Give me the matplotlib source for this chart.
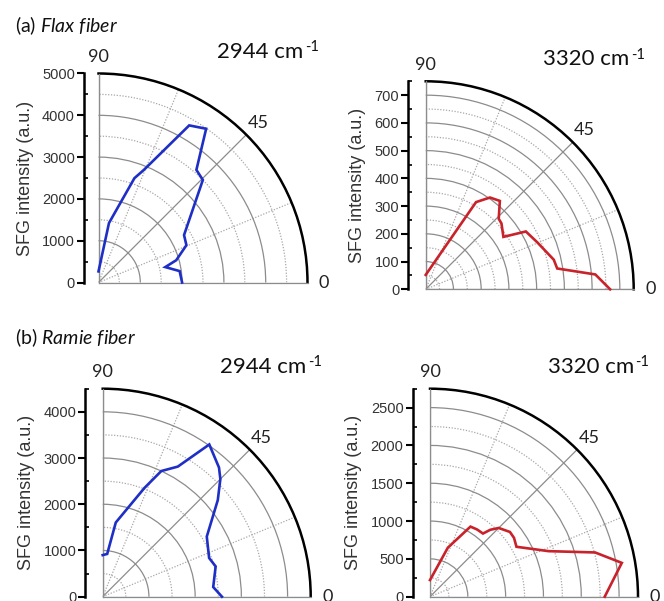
import numpy as np
import matplotlib
matplotlib.use("Agg")
import matplotlib.pyplot as plt
from matplotlib.text import Annotation
from matplotlib.ticker import FixedLocator

plt.rcParams['mathtext.fontset'] = 'custom'
plt.rcParams['mathtext.rm'] = 'Lato'
plt.rcParams['mathtext.it'] = 'Lato:italic'

# Polarization angle (deg) vs SFG intensity (a.u.)
flax_2944_angle = [0, 8, 13, 16, 23, 29, 44.5, 49, 55, 60, 68, 71, 80, 90]
flax_2944_sfg = [2000, 1960, 1640, 1935, 2285, 2340, 3500, 3570, 4490, 4340, 2910, 2640, 1445, 265]

flax_3320_angle = [0, 5, 9, 13, 23, 30, 34, 41, 44, 50, 55, 60, 90]
flax_3320_sfg = [665, 614, 480, 474, 436, 417, 338, 362, 366, 416, 404, 363, 52]

ramie_2944_angle = [0, 5, 15, 20, 30, 40, 45, 48, 55, 60, 65, 69, 80, 84, 90]
ramie_2944_sfg = [2580, 2400, 2530, 2450, 2600, 3250, 3600, 3760, 4020, 3250, 3000, 2520, 1630, 930, 900]

ramie_3320_angle = [0, 10, 15, 21, 30, 35, 39, 45, 48, 50, 55, 60, 70, 90]
ramie_3320_sfg = [2310, 2575, 2260, 1680, 1320, 1356, 1360, 1285, 1190, 1090, 1085, 1070, 690, 220]

# panel: angles, values, colour, radial max, major step, minor step, wavenumber label
panels = [
    (flax_2944_angle, flax_2944_sfg, '#1f2fc6', 5000, 1000, 500, '2944'),
    (flax_3320_angle, flax_3320_sfg, '#c8222a', 750, 100, 50, '3320'),
    (ramie_2944_angle, ramie_2944_sfg, '#1f2fc6', 4500, 1000, 500, '2944'),
    (ramie_3320_angle, ramie_3320_sfg, '#c8222a', 2750, 500, 250, '3320'),
]

W, H = 664, 601
# origin (px) and radius (px) of each quarter-circle, plus left-axis offset (pt)
geometry = [
    (98.5, 282.5, 209, 10.5),
    (425.7, 289.3, 208, 12.5),
    (102.7, 596.7, 208, 12.5),
    (430.0, 596.7, 208, 12.5),
]

fig = plt.figure(figsize=(W / 100, H / 100), dpi=100)

GRID_SOLID = '#8c8c8c'
GRID_DOT = '#a8a8a8'
TXT = '#333333'

for (ang, val, col, rmax, major, minor, wn), (ox, oy, rad, off) in zip(panels, geometry):
    rect = [ox / W, (H - oy) / H, rad / W, rad / H]
    ax = fig.add_axes(rect, projection='polar')
    ax.set_thetamin(0)
    ax.set_thetamax(90)
    ax.set_ylim(0, rmax)

    # radial grid: solid at major steps, dotted halfway between
    maj = np.arange(major, rmax + 1, major)
    mnr = np.arange(minor, rmax + 1, major)
    ax.set_yticks(maj)
    ax.yaxis.set_minor_locator(FixedLocator(mnr))
    ax.tick_params(axis='y', which='both', length=0, labelleft=False,
                   labelright=False)
    ax.yaxis.grid(True, which='major', color=GRID_SOLID, lw=0.9, ls='-')
    ax.yaxis.grid(True, which='minor', color=GRID_DOT, lw=0.9, ls=(0, (1, 1.3)))

    # angular grid and labels
    ax.set_xticks(np.radians([0, 45, 90]))
    ax.set_xticklabels(['0', '45', '90'])
    ax.xaxis.set_minor_locator(FixedLocator(np.radians([22.5, 67.5])))
    ax.xaxis.grid(True, which='major', color=GRID_SOLID, lw=0.9, ls='-')
    ax.xaxis.grid(True, which='minor', color=GRID_DOT, lw=0.9, ls=(0, (1, 1.3)))
    ax.tick_params(axis='x', which='both', direction='in', length=5,
                   width=1.5, color='black', pad=5)
    for lab in ax.get_xticklabels():
        lab.set_fontfamily('Lato')
        lab.set_fontsize(13)
        lab.set_color('#222222')

    ax.spines['polar'].set_linewidth(1.8)
    ax.spines['polar'].set_color('black')
    ax.spines['start'].set_color(GRID_SOLID)
    ax.spines['start'].set_linewidth(0.9)
    ax.spines['end'].set_color(GRID_SOLID)
    ax.spines['end'].set_linewidth(0.9)
    ax.spines['inner'].set_visible(False)

    ax.plot(np.radians(ang), val, color=col, lw=1.9, solid_joinstyle='miter',
            clip_on=False, zorder=5)

    # vertical intensity axis on the left
    ay = fig.add_axes(rect)
    ay.patch.set_visible(False)
    ay.set_ylim(0, rmax)
    ay.set_xticks([])
    for s in ('top', 'right', 'bottom'):
        ay.spines[s].set_visible(False)
    ay.spines['left'].set_position(('outward', off))
    ay.spines['left'].set_linewidth(1.8)
    ay.spines['left'].set_color('black')
    ay.set_yticks(np.arange(0, rmax + 1, major))
    ay.yaxis.set_minor_locator(FixedLocator(mnr))
    ay.tick_params(axis='y', which='major', direction='out', length=5,
                   width=1.5, color='black', pad=1.5, labelsize=10.5,
                   labelcolor=TXT)
    ay.tick_params(axis='y', which='minor', direction='in', length=3,
                   width=1.2, color='black')
    for lab in ay.get_yticklabels():
        lab.set_fontfamily('Liberation Sans')
    ay.set_ylabel('SFG intensity (a.u.)', fontsize=13, color=TXT,
                  family='Liberation Sans', labelpad=6)

    # wavenumber heading with a hyphen-style superscript
    head = fig.text((ox + rad - 4) / W, (H - oy + rad + 16) / H,
                    wn + ' cm', fontsize=16, family='Lato',
                    ha='right', va='baseline', color='#111111')
    fig.add_artist(Annotation(
        '-1', xy=(1, 1), xycoords=head, xytext=(1, 1),
        textcoords='offset points', fontsize=10.5, family='Lato',
        color='#111111', ha='left', va='top'))

fig.text(15 / W, 1 - 26 / H, r'(a) $\it{Flax\ fiber}$', fontsize=14,
         family='Lato', va='center', ha='left', color='#111111')
fig.text(15 / W, 1 - 338 / H, r'(b) $\it{Ramie\ fiber}$', fontsize=14,
         family='Lato', va='center', ha='left', color='#111111')

fig.savefig('out.png', dpi=100)
